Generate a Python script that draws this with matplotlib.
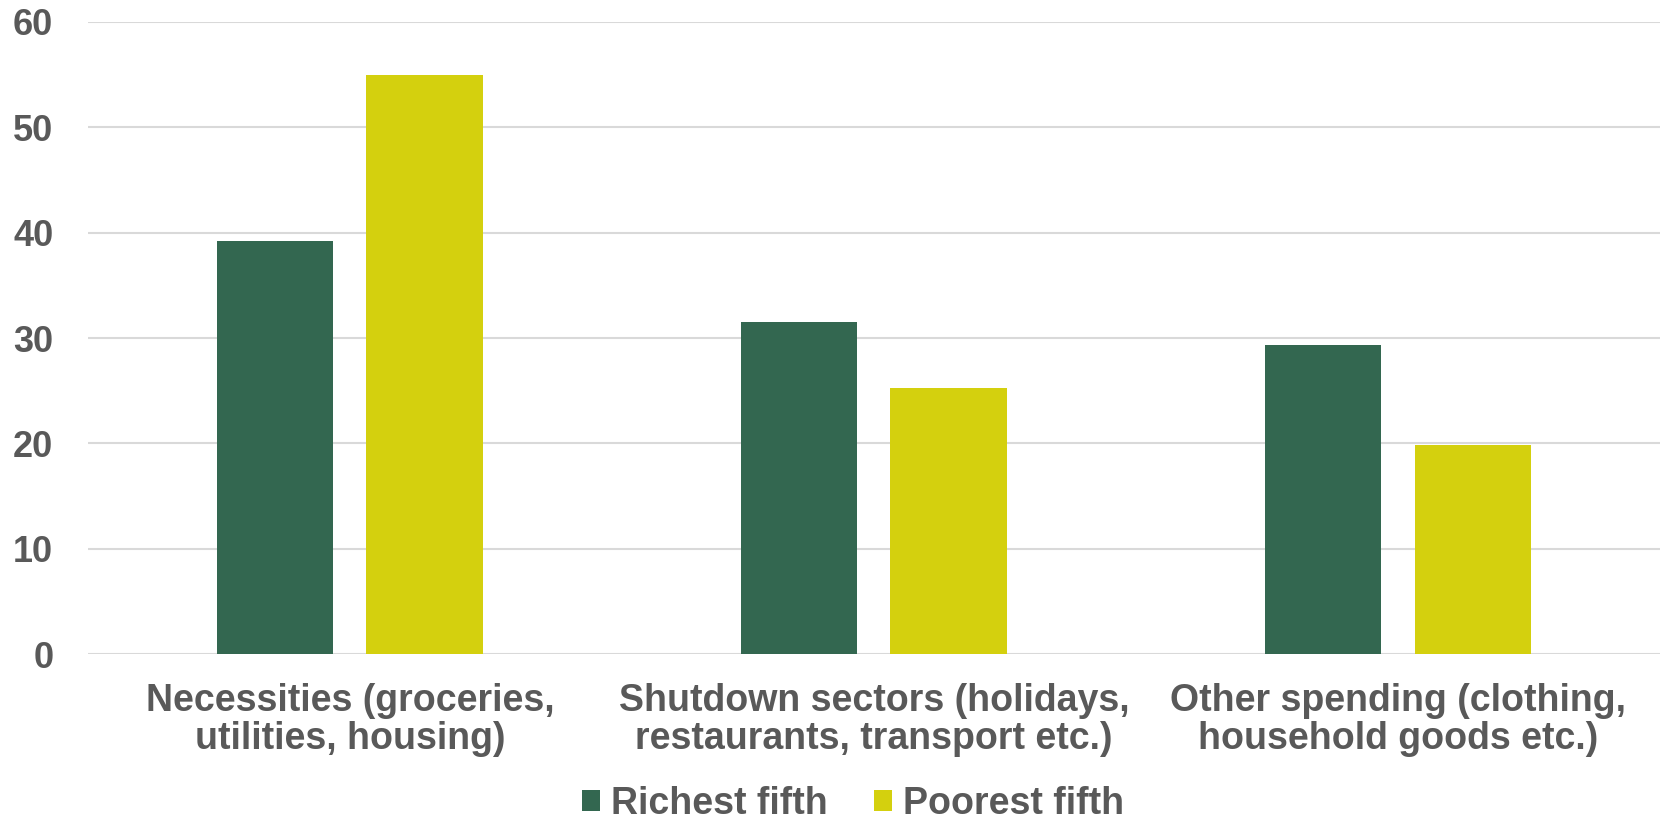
import matplotlib.pyplot as plt
import numpy as np

categories = ['Necessities (groceries,\nutilities, housing)',
              'Shutdown sectors (holidays,\nrestaurants, transport etc.)',
              'Other spending (clothing,\nhousehold goods etc.)']
richest = [39.2, 31.5, 29.3]
poorest = [55.0, 25.3, 19.8]
series_names = ['Richest fifth', 'Poorest fifth']
yticks = [0, 10, 20, 30, 40, 50, 60]

green = '#336750'
yellow = '#D4D00E'
grey = '#595959'

plt.rcParams['font.family'] = ['Liberation Sans', 'DejaVu Sans']
plt.rcParams['font.weight'] = 'bold'

fig = plt.figure(figsize=(16.6, 8.23), dpi=100)
ax = fig.add_axes([0.053, 0.2053, 0.947, 0.768])

x = np.arange(len(categories))
w = 0.223
off = 0.143
ax.bar(x - off, richest, w, color=green, label=series_names[0], zorder=3)
ax.bar(x + off, poorest, w, color=yellow, label=series_names[1], zorder=3)

ax.set_xlim(-0.5, 2.5)
ax.set_ylim(0, 60)
ax.set_yticks(yticks)
ax.set_yticklabels([str(t) for t in yticks])
ax.set_xticks(x)
ax.set_xticklabels(categories, linespacing=1.06)

ax.grid(axis='y', color='#D9D9D9', linewidth=1.5, zorder=0)
for s in ax.spines.values():
    s.set_visible(False)
ax.tick_params(axis='both', length=0, labelcolor=grey)
ax.tick_params(axis='y', pad=25, labelsize=26)
ax.tick_params(axis='x', pad=21, labelsize=27)

leg = fig.legend(loc='lower center', bbox_to_anchor=(0.514, -0.021), ncol=2,
                 frameon=False, fontsize=27, handlelength=0.48, handleheight=0.5,
                 handletextpad=0.29, columnspacing=1.25, borderpad=0)
for t in leg.get_texts():
    t.set_color(grey)

fig.savefig('out.png', dpi=100)
